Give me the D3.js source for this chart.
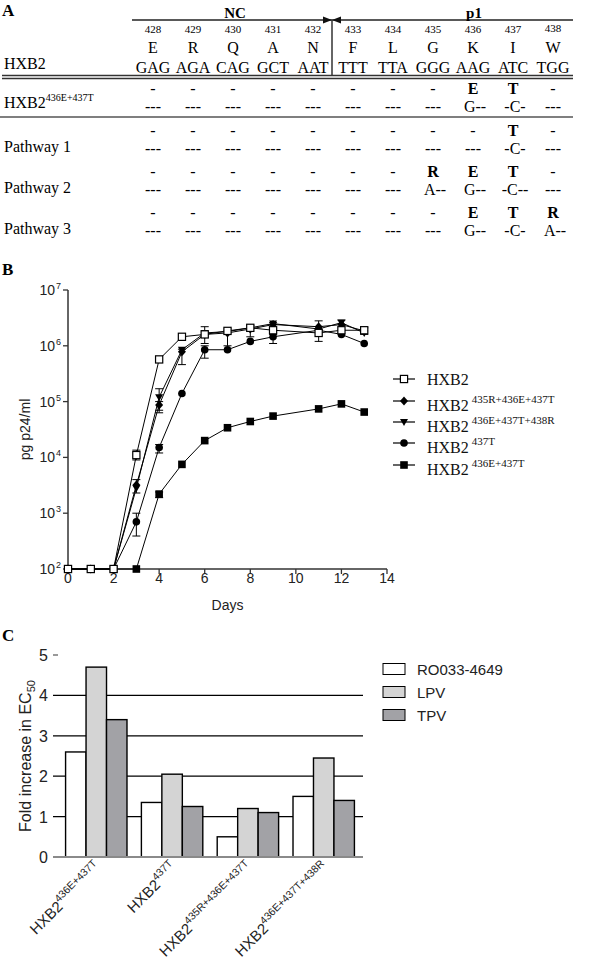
<!DOCTYPE html>
<html><head><meta charset="utf-8">
<script src="https://cdn.jsdelivr.net/npm/d3@7"></script>
<style>body{margin:0;background:#fff}</style>
</head><body><svg id="c" width="600" height="960" xmlns="http://www.w3.org/2000/svg"></svg>
<script>
// ---------- Panel A data ----------
const positions = [428,429,430,431,432,433,434,435,436,437,438];
const aminoAcids = ["E","R","Q","A","N","F","L","G","K","I","W"];
const codons = ["GAG","AGA","CAG","GCT","AAT","TTT","TTA","GGG","AAG","ATC","TGG"];
const domainNames = ["NC","p1"];
const variantNames = ["HXB2","Pathway 1","Pathway 2","Pathway 3"];
const variantSups = ["436E+437T","","",""];
const variantAA = [
  ["-","-","-","-","-","-","-","-","E","T","-"],
  ["-","-","-","-","-","-","-","-","-","T","-"],
  ["-","-","-","-","-","-","-","R","E","T","-"],
  ["-","-","-","-","-","-","-","-","E","T","R"]
];
const variantCodons = [
  ["---","---","---","---","---","---","---","---","G--","-C-","---"],
  ["---","---","---","---","---","---","---","---","---","-C-","---"],
  ["---","---","---","---","---","---","---","A--","G--","-C--","---"],
  ["---","---","---","---","---","---","---","---","G--","-C-","A--"]
];

// ---------- Panel B data ----------
const days = [0,1,2,3,4,5,6,7,8,9,11,12,13];
const seriesSups = ["","435R+436E+437T","436E+437T+438R","437T","436E+437T"];
const seriesSymbols = ["openSquare","diamond","triangleDown","circle","square"];
const hxb2Wt   = [100,100,100,11000,570000,1450000,1600000,1850000,2100000,1900000,1700000,1900000,1900000];
const hxb2_435 = [100,100,100,3200,87000,780000,1600000,1700000,2000000,2400000,2200000,2400000,1850000];
const hxb2_438 = [100,100,100,2800,120000,850000,1700000,1800000,2100000,2500000,2000000,2600000,1700000];
const hxb2_437 = [100,100,100,700,15000,140000,850000,850000,1200000,1450000,1900000,1600000,1100000];
const hxb2_436 = [100,100,100,100,2200,7500,20000,34000,44000,55000,74000,91000,65000];
const seriesValues = [hxb2Wt, hxb2_435, hxb2_438, hxb2_437, hxb2_436];
// error bars: [seriesIndex, day, low, high]
const errorBars = [
  [0,3,9000,13500],[1,3,2300,4000],[2,4,63000,170000],[1,4,70000,100000],
  [2,5,460000,870000],[0,6,1100000,2200000],[3,6,600000,1000000],[3,3,390,1000],
  [3,4,12000,17000],[4,4,1900,2400],[1,7,1000000,1900000],[2,8,1450000,2300000],
  [3,9,1100000,1600000],[2,9,2000000,2600000],[0,11,1200000,2800000],[1,12,1900000,2900000],
  [0,13,1600000,2100000]
];
const yTickExps = [2,3,4,5,6,7];
const xTicks = [0,2,4,6,8,10,12,14];

// ---------- Panel C data ----------
const mutants = ["436E+437T","437T","435R+436E+437T","436E+437T+438R"];
const drugs = ["RO033-4649","LPV","TPV"];
const ro033 = [2.6,1.35,0.5,1.5];
const lpv = [4.7,2.05,1.2,2.45];
const tpv = [3.4,1.25,1.1,1.4];
const drugColors = ["#ffffff","#d4d4d4","#a2a2a6"];
const cTicks = [0,1,2,3,4,5];

const svg = d3.select("#c");
svg.append("rect").attr("width",600).attr("height",960).attr("fill","#fff");
const SERIF = "'Liberation Serif','Times New Roman',serif";
const SANS = "'Liberation Sans',Arial,sans-serif";

// ================= PANEL A =================
const A = svg.append("g").attr("font-family", SERIF);
A.append("text").attr("x",2).attr("y",16).attr("font-size",17).attr("font-weight","bold").text("A");
const xA = d3.scalePoint().domain(positions).range([153,553]);
const divX = (xA(432)+xA(433))/2 - 1;
A.append("line").attr("x1",132).attr("x2",divX).attr("y1",20).attr("y2",20).attr("stroke","#222").attr("stroke-width",1.3);
A.append("line").attr("x1",divX).attr("x2",573).attr("y1",20).attr("y2",20).attr("stroke","#222").attr("stroke-width",1.3);
A.append("path").attr("d",`M${divX-9},16.5 L${divX},20 L${divX-9},23.5 Z`).attr("fill","#111");
A.append("path").attr("d",`M${divX+9},16.5 L${divX},20 L${divX+9},23.5 Z`).attr("fill","#111");
A.append("line").attr("x1",divX).attr("x2",divX).attr("y1",20).attr("y2",75).attr("stroke","#333").attr("stroke-width",1.5);
A.append("text").attr("x",(132+divX)/2+3).attr("y",18).attr("text-anchor","middle").attr("font-size",15).attr("font-weight","bold").text(domainNames[0]);
A.append("text").attr("x",xA(436)+1).attr("y",18).attr("text-anchor","middle").attr("font-size",15).attr("font-weight","bold").text(domainNames[1]);
A.selectAll(".pos").data(positions).join("text").attr("x",d=>xA(d)).attr("y",d=>d===438?32:33)
  .attr("text-anchor","middle").attr("font-size",11).text(d=>d);
A.selectAll(".aa").data(aminoAcids).join("text").attr("x",(d,i)=>xA(positions[i])).attr("y",53)
  .attr("text-anchor","middle").attr("font-size",16).text(d=>d);
A.selectAll(".cod").data(codons).join("text").attr("x",(d,i)=>xA(positions[i])).attr("y",73)
  .attr("text-anchor","middle").attr("font-size",16).text(d=>d);
A.append("text").attr("x",4).attr("y",69).attr("font-size",16).text("HXB2");
A.append("line").attr("x1",2).attr("x2",573).attr("y1",75.5).attr("y2",75.5).attr("stroke","#333").attr("stroke-width",1.3);
A.append("line").attr("x1",2).attr("x2",573).attr("y1",78.5).attr("y2",78.5).attr("stroke","#333").attr("stroke-width",1.3);
A.append("line").attr("x1",0).attr("x2",573).attr("y1",117).attr("y2",117).attr("stroke","#555").attr("stroke-width",1.3);
const rowTop = [94, 136, 177, 218];
variantNames.forEach((nm,r)=>{
  const y0 = rowTop[r];
  const lbl = A.append("text").attr("x",4).attr("y", r===0 ? y0+14 : y0+16).attr("font-size",16);
  lbl.append("tspan").text(nm);
  if (variantSups[r]) lbl.append("tspan").attr("font-size",10).attr("dy",-7).text(variantSups[r]);
  A.selectAll(null).data(variantAA[r]).join("text")
    .attr("x",(d,i)=>xA(positions[i])).attr("y",y0)
    .attr("text-anchor","middle").attr("font-size",16)
    .attr("font-weight",d=>d==="-"?"normal":"bold").text(d=>d);
  A.selectAll(null).data(variantCodons[r]).join("text")
    .attr("x",(d,i)=>xA(positions[i])+(d==="---"?0:2)).attr("y",y0+18)
    .attr("text-anchor","middle").attr("font-size",16).text(d=>d);
});

// ================= PANEL B =================
const B = svg.append("g").attr("font-family", SANS);
B.append("text").attr("x",2).attr("y",275).attr("font-size",17).attr("font-weight","bold").attr("font-family",SERIF).text("B");
const xB = d3.scaleLinear().domain([0,14]).range([68,387]);
const yB = d3.scaleLog().domain([1e2,1e7]).range([569,290]);
const axisCol = "#333";
B.append("line").attr("x1",xB(0)).attr("x2",xB(0)).attr("y1",yB(1e7)).attr("y2",yB(1e2)).attr("stroke",axisCol).attr("stroke-width",1.5);
B.append("line").attr("x1",xB(0)).attr("x2",xB(14)).attr("y1",yB(1e2)).attr("y2",yB(1e2)).attr("stroke",axisCol).attr("stroke-width",1.5);
yTickExps.forEach(e=>{
  const y = yB(Math.pow(10,e));
  B.append("line").attr("x1",xB(0)-5).attr("x2",xB(0)).attr("y1",y).attr("y2",y).attr("stroke",axisCol).attr("stroke-width",1.3);
  B.append("text").attr("x",55).attr("y",y+5).attr("text-anchor","end").attr("font-size",14).attr("fill","#222").text("10");
  B.append("text").attr("x",56).attr("y",y-1).attr("font-size",9).attr("fill","#222").text(e);
});
xTicks.forEach(t=>{
  const x = xB(t);
  B.append("line").attr("x1",x).attr("x2",x).attr("y1",569).attr("y2",574).attr("stroke",axisCol).attr("stroke-width",1.3);
  B.append("text").attr("x",x).attr("y",583).attr("text-anchor","middle").attr("font-size",14).attr("fill","#222").text(t);
});
B.append("text").attr("x",xB(7)).attr("y",610).attr("text-anchor","middle").attr("font-size",14).attr("fill","#222").text("Days");
B.append("text").attr("transform",`translate(30,${(290+569)/2}) rotate(-90)`).attr("text-anchor","middle").attr("font-size",14).attr("fill","#222").text("pg p24/ml");

function drawSymbol(g, type, x, y) {
  if (type==="openSquare") g.append("rect").attr("x",x-3.6).attr("y",y-3.6).attr("width",7.2).attr("height",7.2).attr("fill","#fff").attr("stroke","#000").attr("stroke-width",1.2);
  else if (type==="square") g.append("rect").attr("x",x-3.8).attr("y",y-3.8).attr("width",7.6).attr("height",7.6).attr("fill","#000");
  else if (type==="circle") g.append("circle").attr("cx",x).attr("cy",y).attr("r",3.8).attr("fill","#000");
  else if (type==="diamond") g.append("path").attr("d",`M${x},${y-4.5}L${x+4},${y}L${x},${y+4.5}L${x-4},${y}Z`).attr("fill","#000");
  else if (type==="triangleDown") g.append("path").attr("d",`M${x-4},${y-3}L${x+4},${y-3}L${x},${y+4}Z`).attr("fill","#000");
}
const line = d3.line().x(d=>xB(d[0])).y(d=>yB(d[1]));
errorBars.forEach(([s,day,lo,hi])=>{
  const x = xB(day), v = seriesValues[s][days.indexOf(day)];
  const g = B.append("g").attr("stroke","#000").attr("stroke-width",1);
  if (hi > v) { g.append("line").attr("x1",x).attr("x2",x).attr("y1",yB(v)).attr("y2",yB(hi));
    g.append("line").attr("x1",x-4).attr("x2",x+4).attr("y1",yB(hi)).attr("y2",yB(hi)); }
  if (lo < v && lo > 100) { g.append("line").attr("x1",x).attr("x2",x).attr("y1",yB(v)).attr("y2",yB(lo));
    g.append("line").attr("x1",x-4).attr("x2",x+4).attr("y1",yB(lo)).attr("y2",yB(lo)); }
});
const order = [4,3,2,1,0];
order.forEach(s=>{
  B.append("path").datum(days.map((d,i)=>[d,seriesValues[s][i]])).attr("d",line)
    .attr("fill","none").attr("stroke","#000").attr("stroke-width",1);
});
order.forEach(s=>{
  const g = B.append("g");
  days.forEach((d,i)=>drawSymbol(g, seriesSymbols[s], xB(d), yB(seriesValues[s][i])));
});
const legY = [379,401,422,443,465];
seriesSymbols.forEach((sym,i)=>{
  const y = legY[i];
  B.append("line").attr("x1",393).attr("x2",415).attr("y1",y).attr("y2",y).attr("stroke","#000").attr("stroke-width",1.2);
  drawSymbol(B, sym, 404, y);
  const t = B.append("text").attr("x",427).attr("y", seriesSups[i] ? y+10 : y+6).attr("font-family",SERIF).attr("font-size",16).attr("fill","#111");
  t.append("tspan").text("HXB2");
  if (seriesSups[i]) t.append("tspan").attr("dx",3).attr("dy",-8).attr("font-size",11).text(seriesSups[i]);
});

// ================= PANEL C =================
const C = svg.append("g").attr("font-family", SANS);
C.append("text").attr("x",2).attr("y",641).attr("font-size",17).attr("font-weight","bold").attr("font-family",SERIF).text("C");
const yC = d3.scaleLinear().domain([0,5]).range([857,655]);
const xC = d3.scaleBand().domain(mutants).range([58,362]).paddingInner(0.19).paddingOuter(0.1);
const xCi = d3.scaleBand().domain(drugs).range([0,xC.bandwidth()]);
const drugVals = [ro033, lpv, tpv];
cTicks.forEach(t=>{
  const y = yC(t);
  if (t>0 && t<5) C.append("line").attr("x1",53).attr("x2",363).attr("y1",y).attr("y2",y).attr("stroke","#000").attr("stroke-width",1.2);
  else C.append("line").attr("x1",53).attr("x2",58).attr("y1",y).attr("y2",y).attr("stroke","#555").attr("stroke-width",1.2);
  C.append("text").attr("x",48).attr("y",y+6).attr("text-anchor","end").attr("font-size",16).attr("fill","#222").text(t);
});
mutants.forEach((m,gi)=>{
  drugs.forEach((dname,di)=>{
    const v = drugVals[di][gi];
    C.append("rect").attr("x",xC(m)+xCi(dname)).attr("y",yC(v)).attr("width",xCi.bandwidth()).attr("height",yC(0)-yC(v))
      .attr("fill",drugColors[di]).attr("stroke","#000").attr("stroke-width",1.4);
  });
});
C.append("line").attr("x1",53).attr("x2",363).attr("y1",yC(0)).attr("y2",yC(0)).attr("stroke","#8a8a8a").attr("stroke-width",2);
const yl = C.append("text").attr("transform",`translate(31,${(655+857)/2}) rotate(-90)`).attr("text-anchor","middle").attr("font-size",16).attr("fill","#222");
yl.append("tspan").text("Fold increase in EC");
yl.append("tspan").attr("font-size",11).attr("dy",4).text("50");
mutants.forEach(m=>{
  const cx = xC(m)+xC.bandwidth()/2;
  const t = C.append("text").attr("transform",`translate(${cx+6},${869}) rotate(-45)`).attr("text-anchor","end").attr("font-size",15).attr("fill","#222");
  t.append("tspan").text("HXB2");
  t.append("tspan").attr("font-size",10.5).attr("dy",-7).text(m);
});
drugs.forEach((d,i)=>{
  const y = [669,692,715][i];
  C.append("rect").attr("x",383).attr("y",y-5.5).attr("width",22).attr("height",11).attr("fill",drugColors[i]).attr("stroke","#000").attr("stroke-width",1);
  C.append("text").attr("x",417).attr("y",y+5.5).attr("font-size",15).attr("fill","#222").text(d);
});
</script></body></html>
